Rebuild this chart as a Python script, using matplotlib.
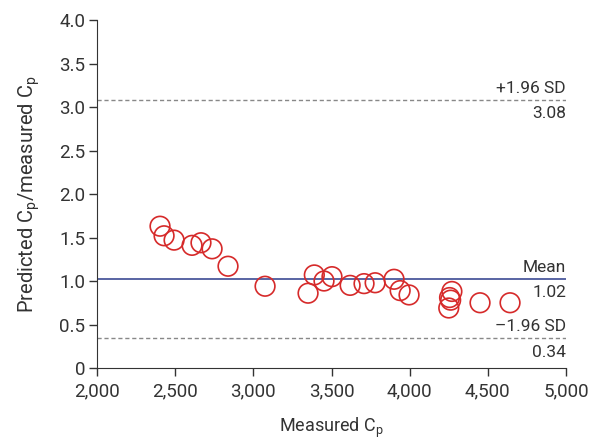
import matplotlib.pyplot as plt

# measured Cp vs predicted/measured ratio
measured = [2403, 2429, 2493, 2608, 2665, 2736, 2838, 3075, 3350, 3390,
            3452, 3503, 3619, 3708, 3779, 3900, 3939, 3996,
            4255, 4270, 4262, 4250, 4450, 4642]
ratio = [1.63, 1.52, 1.47, 1.41, 1.44, 1.37, 1.17, 0.94, 0.86, 1.07,
         1.00, 1.05, 0.95, 0.97, 0.98, 1.02, 0.89, 0.84,
         0.81, 0.88, 0.78, 0.69, 0.75, 0.75]

mean_val = 1.02
upper = 3.08
lower = 0.34

plt.rcParams['font.family'] = ['Roboto', 'DejaVu Sans']
txt = '#333333'

fig = plt.figure(figsize=(5.93, 4.41), dpi=100)
ax = fig.add_axes([0.1636, 0.1655, 0.7909, 0.7891])

ax.scatter(measured, ratio, s=200, facecolors='none', edgecolors='#d62a2a',
           linewidths=1.2, zorder=3)

ax.axhline(mean_val, color='#2b3a8a', lw=1.1)
ax.axhline(upper, color='#888888', lw=1.0, ls=(0, (3, 2)))
ax.axhline(lower, color='#888888', lw=1.0, ls=(0, (3, 2)))

fs = 12.5
ax.text(5000, upper + 0.05, '+1.96 SD', ha='right', va='bottom', fontsize=fs, color=txt)
ax.text(5000, upper - 0.07, f'{upper:.2f}', ha='right', va='top', fontsize=fs, color=txt)
ax.text(5000, mean_val + 0.05, 'Mean', ha='right', va='bottom', fontsize=fs, color=txt)
ax.text(5000, mean_val - 0.07, f'{mean_val:.2f}', ha='right', va='top', fontsize=fs, color=txt)
ax.text(5000, lower + 0.05, '\u20131.96 SD', ha='right', va='bottom', fontsize=fs, color=txt)
ax.text(5000, lower - 0.07, f'{lower:.2f}', ha='right', va='top', fontsize=fs, color=txt)

ax.set_xlim(2000, 5000)
ax.set_ylim(0, 4.0)
ax.set_xticks(range(2000, 5001, 500))
ax.set_xticklabels([f'{v:,}' for v in range(2000, 5001, 500)])
ax.set_yticks([0, 0.5, 1.0, 1.5, 2.0, 2.5, 3.0, 3.5, 4.0])
ax.set_yticklabels(['0', '0.5', '1.0', '1.5', '2.0', '2.5', '3.0', '3.5', '4.0'])

for s in ['top', 'right']:
    ax.spines[s].set_visible(False)
for s in ['left', 'bottom']:
    ax.spines[s].set_color('#333333')
ax.tick_params(labelsize=13.5, colors=txt, length=5.5, width=1)
ax.tick_params(axis='x', pad=5)
ax.tick_params(axis='y', pad=3)

ax.set_xlabel('Measured C$_\\mathregular{p}$', fontsize=13, color=txt, labelpad=11)
ax.set_ylabel('Predicted C$_\\mathregular{p}$/measured C$_\\mathregular{p}$', fontsize=14.5,
              color=txt, labelpad=12)

fig.savefig('out.png', dpi=100)
